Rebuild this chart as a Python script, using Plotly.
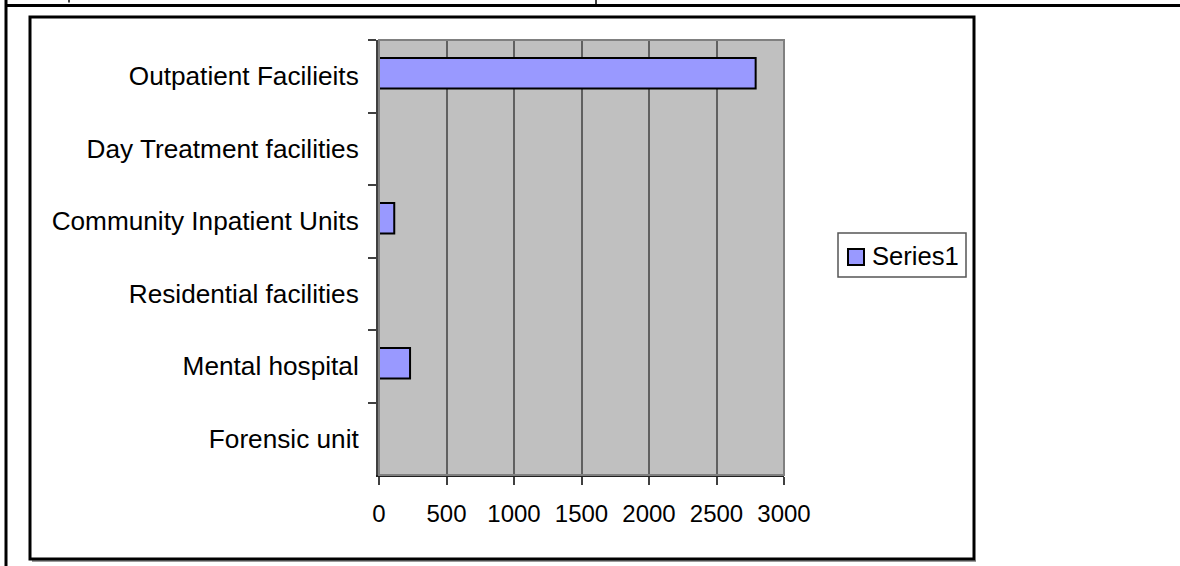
import plotly.graph_objects as go

categories = [
    "Outpatient Facilieits",
    "Day Treatment facilities",
    "Community Inpatient Units",
    "Residential facilities",
    "Mental hospital",
    "Forensic unit",
]
values = [2790, 0, 113, 0, 230, 0]
series_name = "Series1"
x_ticks = [0, 500, 1000, 1500, 2000, 2500, 3000]

W, H = 1180, 566
FONT = "Liberation Sans, Arial, sans-serif"
BAR_COLOR = "#9999FF"

def px(x):
    return x / W

def py(y):
    return 1 - y / H

fig = go.Figure()
fig.add_trace(go.Bar(
    x=values,
    y=categories,
    orientation="h",
    name=series_name,
    width=0.42,
    offset=-0.25,
    marker=dict(color=BAR_COLOR, line=dict(color="#000000", width=2)),
    showlegend=False,
))

shapes = [
    # outer table lines
    dict(type="line", xref="paper", yref="paper", x0=px(5), x1=1.0, y0=py(5.5), y1=py(5.5),
         line=dict(color="black", width=3)),
    dict(type="line", xref="paper", yref="paper", x0=px(6), x1=px(6), y0=0, y1=1,
         line=dict(color="black", width=3)),
    dict(type="line", xref="paper", yref="paper", x0=px(596), x1=px(596), y0=1, y1=py(5.5),
         line=dict(color="black", width=1.5)),
    # cut-off glyph remnant from text above
    dict(type="line", xref="paper", yref="paper", x0=px(69), x1=px(69), y0=1, y1=py(2.5),
         line=dict(color="black", width=1.5)),
    # chart frame shadow
    dict(type="line", xref="paper", yref="paper", x0=px(32), x1=px(976), y0=py(561), y1=py(561),
         line=dict(color="#9a9a9a", width=2)),
    # chart frame
    dict(type="rect", xref="paper", yref="paper", x0=px(30), x1=px(974), y0=py(559), y1=py(17),
         line=dict(color="black", width=3)),
    # plot area border (gray)
    dict(type="rect", xref="paper", yref="paper", x0=px(379), x1=px(784), y0=py(475), y1=py(40),
         line=dict(color="#808080", width=2), layer="above"),
    # legend box
    dict(type="rect", xref="paper", yref="paper", x0=px(838), x1=px(966), y0=py(277), y1=py(233),
         line=dict(color="#555555", width=1.5), fillcolor="white"),
    # legend key
    dict(type="rect", xref="paper", yref="paper", x0=px(848), x1=px(864), y0=py(265), y1=py(249),
         line=dict(color="black", width=2), fillcolor=BAR_COLOR),
]

annotations = [
    dict(text=series_name, xref="paper", yref="paper", x=px(870), y=py(256),
         xanchor="left", yanchor="middle", showarrow=False,
         font=dict(family=FONT, size=25.6, color="black")),
]

fig.update_layout(
    template="none",
    width=W, height=H,
    autosize=False,
    margin=dict(l=0, r=0, t=0, b=0, pad=0, autoexpand=False),
    paper_bgcolor="white",
    plot_bgcolor="#C0C0C0",
    font=dict(family=FONT, size=25, color="black"),
    shapes=shapes,
    annotations=annotations,
    showlegend=False,
    xaxis=dict(
        domain=[px(379), px(784)],
        range=[0, 3000],
        tickvals=x_ticks,
        ticktext=[str(v) for v in x_ticks],
        showgrid=True, gridcolor="#606060", gridwidth=1.5,
        ticks="outside", ticklen=8, tickcolor="#404040", tickwidth=1.5,
        showline=True, linecolor="#202020", linewidth=2,
        zeroline=False,
        automargin=False,
        tickfont=dict(family=FONT, size=24, color="black"),
        ticklabelstandoff=8,
        anchor="y",
        fixedrange=True,
    ),
    yaxis=dict(
        domain=[py(475), py(40)],
        type="category",
        categoryorder="array", categoryarray=categories,
        autorange="reversed",
        tickson="boundaries",
        ticks="outside", ticklen=8, tickcolor="#404040", tickwidth=1.5,
        showline=True, linecolor="#404040", linewidth=3,
        showgrid=False,
        automargin=False,
        tickfont=dict(family=FONT, size=26.2, color="black"),
        ticklabelstandoff=12,
        anchor="x",
        fixedrange=True,
    ),
)

post = (
    "document.documentElement.style.margin='0';"
    "document.body.style.margin='0';"
    "document.body.style.overflow='hidden';"
)

fig.write_html(
    "out.html",
    config={"responsive": False},
    post_script=post,
)
